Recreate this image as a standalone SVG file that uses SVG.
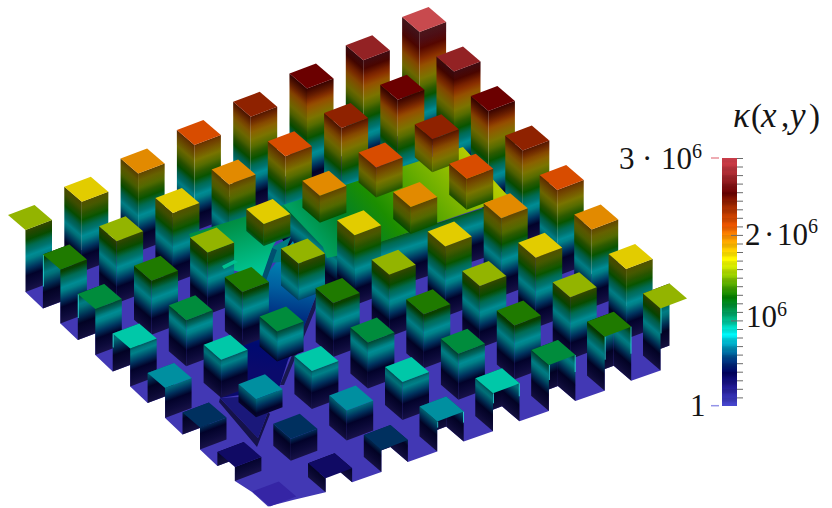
<svg xmlns="http://www.w3.org/2000/svg" width="832" height="508" viewBox="0 0 832 508">
<style>
.R{transform:matrix(26.5,-10,0,1,17.5,15);fill:url(#wall)}
.L{transform:matrix(17.5,15,0,1,0,0);fill:url(#wallL)}
.T{transform:matrix(26.5,-10,0,1,0,0);fill:url(#wallL)}
.U{transform:matrix(17.5,15,0,1,26.5,-10);fill:url(#wallL)}
.s{fill:url(#shade)}
.f{stroke:#30e0e0;stroke-width:1;fill:none;opacity:.8}
text{font-family:"Liberation Serif","Times New Roman",serif;fill:#151515}
.n{font-size:31px}
.e{font-size:20px}
.i{font-size:35px;font-style:italic}
.p{font-size:33px;font-style:normal}
</style>
<defs>
<linearGradient id="wall" gradientUnits="userSpaceOnUse" x1="0" y1="0" x2="0" y2="-118">
<stop offset="0" stop-color="#181248"/><stop offset=".06" stop-color="#0c0a3a"/><stop offset=".134" stop-color="#02022a"/><stop offset=".19" stop-color="#00305c"/><stop offset=".27" stop-color="#008088"/><stop offset=".3" stop-color="#008c94"/><stop offset=".34" stop-color="#007470"/><stop offset=".38" stop-color="#006a50"/><stop offset=".437" stop-color="#085400"/><stop offset=".49" stop-color="#2c5a00"/><stop offset=".54" stop-color="#566c00"/><stop offset=".6" stop-color="#7a7400"/><stop offset=".66" stop-color="#8a6200"/><stop offset=".708" stop-color="#945000"/><stop offset=".76" stop-color="#8a3000"/><stop offset=".858" stop-color="#540600"/><stop offset=".93" stop-color="#5a1018"/><stop offset="1" stop-color="#6a2028"/>
</linearGradient>
<linearGradient id="wallL" gradientUnits="userSpaceOnUse" x1="0" y1="0" x2="0" y2="-118">
<stop offset="0" stop-color="#141040"/><stop offset=".06" stop-color="#0a0832"/><stop offset=".134" stop-color="#020224"/><stop offset=".19" stop-color="#002a50"/><stop offset=".27" stop-color="#007078"/><stop offset=".3" stop-color="#007c84"/><stop offset=".34" stop-color="#006662"/><stop offset=".38" stop-color="#005c46"/><stop offset=".437" stop-color="#064a00"/><stop offset=".49" stop-color="#264e00"/><stop offset=".54" stop-color="#4c5e00"/><stop offset=".6" stop-color="#6c6600"/><stop offset=".66" stop-color="#7a5600"/><stop offset=".708" stop-color="#824600"/><stop offset=".76" stop-color="#782a00"/><stop offset=".858" stop-color="#4a0500"/><stop offset=".93" stop-color="#4e0e14"/><stop offset="1" stop-color="#5c1c24"/>
</linearGradient>
<linearGradient id="shade" x1="0" y1="0" x2="0" y2="1"><stop offset="0" stop-color="#000" stop-opacity=".3"/><stop offset="1" stop-color="#000" stop-opacity="0"/></linearGradient>
<linearGradient id="gA" gradientUnits="userSpaceOnUse" x1="463" y1="147" x2="330" y2="255"><stop offset="0" stop-color="#b4cc00"/><stop offset=".3" stop-color="#6cae00"/><stop offset=".6" stop-color="#1c8e00"/><stop offset=".8" stop-color="#008028"/><stop offset="1" stop-color="#00a060"/></linearGradient>
<linearGradient id="gB" gradientUnits="userSpaceOnUse" x1="232" y1="220" x2="250" y2="276"><stop offset="0" stop-color="#008c40"/><stop offset="1" stop-color="#00c898"/></linearGradient>
<linearGradient id="gC" gradientUnits="userSpaceOnUse" x1="280" y1="250" x2="265" y2="370"><stop offset="0" stop-color="#0090b8"/><stop offset=".3" stop-color="#0060a0"/><stop offset=".55" stop-color="#002c80"/><stop offset=".8" stop-color="#000a70"/><stop offset="1" stop-color="#0a0a6c"/></linearGradient>
<linearGradient id="gBar" x1="0" y1="0" x2="0" y2="1">
<stop offset="0" stop-color="#d8424f"/><stop offset=".069" stop-color="#a82a30"/><stop offset=".142" stop-color="#6a0000"/><stop offset=".19" stop-color="#a02800"/><stop offset=".275" stop-color="#f05800"/><stop offset=".316" stop-color="#ff9000"/><stop offset=".364" stop-color="#ffc800"/><stop offset=".413" stop-color="#ffff00"/><stop offset=".466" stop-color="#a8d800"/><stop offset=".514" stop-color="#50a800"/><stop offset=".563" stop-color="#008000"/><stop offset=".615" stop-color="#009850"/><stop offset=".664" stop-color="#00c8a0"/><stop offset=".709" stop-color="#00ffff"/><stop offset=".757" stop-color="#00a0c0"/><stop offset=".81" stop-color="#004088"/><stop offset=".866" stop-color="#000060"/><stop offset=".919" stop-color="#201890"/><stop offset="1" stop-color="#4848d0"/>
</linearGradient>
<pattern id="bands" patternUnits="userSpaceOnUse" x="722" y="158" width="15" height="8.56"><rect width="15" height="4.28" fill="#000" opacity=".07"/></pattern>
<polygon id="t" points="0,0 26.5,-10 44,5 17.5,15"/>
<g id="w7"><rect y="-118" width="1" height="118"/><rect class="s" y="-118" width="1" height="16"/></g>
<g id="w6"><rect y="-110" width="1" height="110"/><rect class="s" y="-110" width="1" height="16"/></g>
<g id="w5"><rect y="-102" width="1" height="102"/><rect class="s" y="-102" width="1" height="16"/></g>
<g id="w4"><rect y="-94" width="1" height="94"/><rect class="s" y="-94" width="1" height="16"/></g>
<g id="w3"><rect y="-86" width="1" height="86"/><rect class="s" y="-86" width="1" height="16"/></g>
<g id="w2"><rect y="-78" width="1" height="78"/><rect class="s" y="-78" width="1" height="16"/></g>
<g id="w1"><rect y="-70" width="1" height="70"/><rect class="s" y="-70" width="1" height="16"/></g>
<g id="w0"><rect y="-62" width="1" height="62"/><rect class="s" y="-62" width="1" height="16"/></g>
<g id="wm1"><rect y="-54" width="1" height="54"/><rect class="s" y="-54" width="1" height="10"/></g>
<g id="wm2"><rect y="-46" width="1" height="46"/><rect class="s" y="-46" width="1" height="8"/></g>
<g id="wm3"><rect y="-38" width="1" height="38"/><rect class="s" y="-38" width="1" height="6"/></g>
<g id="wm4"><rect y="-30" width="1" height="30"/></g>
<g id="wm5"><rect y="-22" width="1" height="22"/></g>
<g id="wm6"><rect y="-14" width="1" height="14"/></g>
<g id="b7"><use href="#w7" class="R"/><use href="#w7" class="L"/><use href="#t" y="-118" fill="#c84a4e"/></g>
<g id="b6"><use href="#w6" class="R"/><use href="#w6" class="L"/><use href="#t" y="-110" fill="#932224"/></g>
<g id="b5"><use href="#w5" class="R"/><use href="#w5" class="L"/><use href="#t" y="-102" fill="#6b0000"/></g>
<g id="b4"><use href="#w4" class="R"/><use href="#w4" class="L"/><use href="#t" y="-94" fill="#8f2200"/></g>
<g id="b3"><use href="#w3" class="R"/><use href="#w3" class="L"/><use href="#t" y="-86" fill="#d84c00"/></g>
<g id="b2"><use href="#w2" class="R"/><use href="#w2" class="L"/><use href="#t" y="-78" fill="#e28a00"/></g>
<g id="b1"><use href="#w1" class="R"/><use href="#w1" class="L"/><use href="#t" y="-70" fill="#e2cc00"/></g>
<g id="b0"><use href="#w0" class="R"/><use href="#w0" class="L"/><use href="#t" y="-62" fill="#93b400"/></g>
<g id="bm1"><use href="#wm1" class="R"/><use href="#wm1" class="L"/><use href="#t" y="-54" fill="#1f7a00"/></g>
<g id="bm2"><use href="#wm2" class="R"/><use href="#wm2" class="L"/><use href="#t" y="-46" fill="#008c3c"/></g>
<g id="bm3"><use href="#wm3" class="R"/><use href="#wm3" class="L"/><use href="#t" y="-38" fill="#00c8a8"/></g>
<g id="bm4"><use href="#wm4" class="R"/><use href="#wm4" class="L"/><use href="#t" y="-30" fill="#008fa0"/></g>
<g id="bm5"><use href="#wm5" class="R"/><use href="#wm5" class="L"/><use href="#t" y="-22" fill="#00305f"/></g>
<g id="l0"><use href="#w0" class="R"/><use href="#t" y="-62" fill="#93b400"/></g>
<g id="lm1"><use href="#wm1" class="T"/><use href="#wm1" class="R"/><path class="f" d="M0.5,-54V-22"/><use href="#t" y="-54" fill="#1f7a00"/></g>
<g id="lm2"><use href="#wm2" class="T"/><use href="#wm2" class="R"/><path class="f" d="M0.5,-46V-22"/><use href="#t" y="-46" fill="#008c3c"/></g>
<g id="lm3"><use href="#wm3" class="T"/><use href="#wm3" class="R"/><path class="f" d="M0.5,-38V-24"/><use href="#t" y="-38" fill="#00c8a8"/></g>
<g id="lm4"><use href="#wm4" class="T"/><use href="#wm4" class="R"/><use href="#t" y="-30" fill="#008fa0"/></g>
<g id="lm5"><use href="#wm5" class="T"/><use href="#wm5" class="R"/><use href="#t" y="-22" fill="#00305f"/></g>
<g id="lm6"><use href="#wm6" class="T"/><use href="#wm6" class="R"/><use href="#t" y="-14" fill="#100a64"/></g>
<g id="r0"><use href="#w0" class="T"/><use href="#w0" class="L"/><path class="f" d="M18,-48V-22"/><use href="#t" y="-62" fill="#93b400"/></g>
<g id="rm1"><use href="#wm1" class="T"/><use href="#wm1" class="U"/><use href="#wm1" class="L"/><path class="f" d="M18,-39V-16M43.8,-49V-22"/><use href="#t" y="-54" fill="#1f7a00"/></g>
<g id="rm2"><use href="#wm2" class="T"/><use href="#wm2" class="U"/><use href="#wm2" class="L"/><path class="f" d="M18,-31V-16M43.8,-41V-24"/><use href="#t" y="-46" fill="#008c3c"/></g>
<g id="rm3"><use href="#wm3" class="T"/><use href="#wm3" class="U"/><use href="#wm3" class="L"/><path class="f" d="M18,-23V-13M43.8,-33V-20"/><use href="#t" y="-38" fill="#00c8a8"/></g>
<g id="rm4"><use href="#wm4" class="T"/><use href="#wm4" class="U"/><use href="#wm4" class="L"/><path class="f" d="M18,-15V-9M43.8,-25V-14"/><use href="#t" y="-30" fill="#008fa0"/></g>
<g id="rm5"><use href="#wm5" class="T"/><use href="#wm5" class="U"/><use href="#wm5" class="L"/><use href="#t" y="-22" fill="#00305f"/></g>
<g id="rm6"><use href="#wm6" class="T"/><use href="#wm6" class="U"/><use href="#wm6" class="L"/><use href="#t" y="-14" fill="#100a64"/></g>
</defs>
<rect width="832" height="508" fill="#fff"/>
<polygon id="floor" fill="#4238b4" points="25.5,292 34.5,267 428.6,124.9 669.5,345.4 660.5,348.8 660.5,370.4 631.2,380.7 613.7,365.7 604.7,369.1 604.7,390.7 575.4,401 557.9,386 548.9,389.4 548.9,411 519.5,421.3 502,406.3 493,409.7 493,431.3 463.7,441.6 446.2,426.6 437.2,430 437.2,451.6 407.9,461.9 390.4,446.9 381.4,450.3 381.4,471.9 352.1,482.2 334.6,467.2 325.6,470.6 325.6,492.2 293,500 268,506.5 252,492 234.9,481 234.9,459.4 217.4,466 200,449.5 200,427.9 182.5,434.5 165.1,418 165.1,396.4 147.6,403 130.2,386.5 130.2,364.9 112.7,371.5 95.3,355 95.3,333.4 77.8,340 60.4,323.5 60.4,301.9 42.9,308.5"/>
<g id="columns-back">
<g id="n70" transform="translate(402.1 134.9)"><use href="#b7"/></g>
<g id="n60" transform="translate(345.8 155.2)"><use href="#b6"/></g>
<g id="n71" transform="translate(436.5 166.4)"><use href="#b6"/></g>
<g id="n50" transform="translate(289.5 175.5)"><use href="#b5"/></g>
<g id="n61" transform="translate(380.3 186.7)"><use href="#b5"/></g>
<g id="n72" transform="translate(470.9 197.9)"><use href="#b5"/></g>
<g id="n40" transform="translate(233.2 195.8)"><use href="#b4"/></g>
<g id="n51" transform="translate(324.1 207)"><use href="#b4"/></g>
<g id="n73" transform="translate(505.3 229.4)"><use href="#b4"/></g>
<g id="n30" transform="translate(176.9 216.1)"><use href="#b3"/></g>
<g id="n41" transform="translate(267.8 227.3)"><use href="#b3"/></g>
<g id="n20" transform="translate(120.6 236.4)"><use href="#b2"/></g>
<g id="n31" transform="translate(211.6 247.6)"><use href="#b2"/></g>
<g id="n10" transform="translate(64.3 256.7)"><use href="#b1"/></g>
<g id="n21" transform="translate(155.4 267.9)"><use href="#b1"/></g>
<g id="n00" transform="translate(8 277)"><use href="#l0"/></g>
<g id="n11" transform="translate(99.1 288.2)"><use href="#b0"/></g>
<g id="n01" transform="translate(42.9 308.5)"><use href="#lm1"/></g>
</g>
<g id="plate">
<rect width="1" y="-50" height="50" fill="url(#wall)" transform="matrix(163 -53 0 1 345 303)"/>
<rect width="1" y="-50" height="50" fill="url(#wallL)" transform="matrix(62 48 0 1 283 255)"/>
<polygon points="219,402 257,447 270,414 268,412 258,438 220,398" fill="#15124a"/>
<polygon points="220,398 258,438 268,412 258,396" fill="#1a187a"/>
<polygon points="316,296 320,298 284,385 280,385" fill="#181850"/>
<polygon points="293,241 316,296 302,332 288,360 280,385 267,413 240,395 220,398 232,372 250,317 267,274" fill="url(#gC)"/>
<polygon points="272,247 291,237 281,262 270,263" fill="#007a82"/>
<polygon points="272,248 277,250 266,281 261,277" fill="#005070"/>
<polygon points="189,234 283,205 291,215 272,248 262,277 223,268 234,262 200,262" fill="url(#gB)"/>
<polygon points="283,205 463,147 510,198 345,254 327,258 323,247" fill="url(#gA)"/>
</g>
<g id="columns-front">
<g id="n62" transform="translate(414.8 218.2)"><g class="R"><rect y="-94" width="1" height="33"/><rect class="s" y="-94" width="1" height="16"/></g><g class="L"><rect y="-94" width="1" height="33"/><rect class="s" y="-94" width="1" height="16"/></g><use href="#t" y="-94" fill="#8f2200"/></g>
<g id="n52" transform="translate(358.6 238.5)"><g class="R"><rect y="-86" width="1" height="30"/><rect class="s" y="-86" width="1" height="16"/></g><g class="L"><rect y="-86" width="1" height="30"/><rect class="s" y="-86" width="1" height="16"/></g><use href="#t" y="-86" fill="#d84c00"/></g>
<g id="n63" transform="translate(449.2 249.7)"><g class="R"><rect y="-86" width="1" height="31"/><rect class="s" y="-86" width="1" height="16"/></g><g class="L"><rect y="-86" width="1" height="31"/><rect class="s" y="-86" width="1" height="16"/></g><use href="#t" y="-86" fill="#d84c00"/></g>
<g id="n74" transform="translate(539.7 260.9)"><use href="#b3"/></g>
<g id="n42" transform="translate(302.4 258.8)"><g class="R"><rect y="-78" width="1" height="27"/><rect class="s" y="-78" width="1" height="16"/></g><g class="L"><rect y="-78" width="1" height="27"/><rect class="s" y="-78" width="1" height="16"/></g><use href="#t" y="-78" fill="#e28a00"/></g>
<g id="n53" transform="translate(393.2 270)"><g class="R"><rect y="-78" width="1" height="27"/><rect class="s" y="-78" width="1" height="16"/></g><g class="L"><rect y="-78" width="1" height="27"/><rect class="s" y="-78" width="1" height="16"/></g><use href="#t" y="-78" fill="#e28a00"/></g>
<g id="n64" transform="translate(483.7 281.2)"><use href="#b2"/></g>
<g id="n75" transform="translate(574.2 292.4)"><use href="#b2"/></g>
<g id="n32" transform="translate(246.3 279.1)"><g class="R"><rect y="-70" width="1" height="22"/><rect class="s" y="-70" width="1" height="16"/></g><g class="L"><rect y="-70" width="1" height="22"/><rect class="s" y="-70" width="1" height="16"/></g><use href="#t" y="-70" fill="#e2cc00"/></g>
<g id="n43" transform="translate(337.1 290.3)"><use href="#b1"/></g>
<g id="n54" transform="translate(427.7 301.5)"><use href="#b1"/></g>
<g id="n65" transform="translate(518.2 312.7)"><use href="#b1"/></g>
<g id="n76" transform="translate(608.6 323.9)"><use href="#b1"/></g>
<g id="n22" transform="translate(190.1 299.4)"><use href="#b0"/></g>
<g id="n33" transform="translate(281 310.6)"><g class="R"><rect y="-62" width="1" height="37"/><rect class="s" y="-62" width="1" height="16"/></g><g class="L"><rect y="-62" width="1" height="37"/><rect class="s" y="-62" width="1" height="16"/></g><use href="#t" y="-62" fill="#93b400"/></g>
<g id="n44" transform="translate(371.7 321.8)"><use href="#b0"/></g>
<g id="n55" transform="translate(462.3 333)"><use href="#b0"/></g>
<g id="n66" transform="translate(552.7 344.2)"><use href="#b0"/></g>
<g id="n77" transform="translate(643 355.4)"><use href="#r0"/></g>
<polygon id="plate-lip" points="222,266 234,260 238,262 224,269" fill="#00c090"/>
<g id="n12" transform="translate(134 319.7)"><use href="#bm1"/></g>
<g id="n23" transform="translate(224.9 330.9)"><use href="#bm1"/></g>
<g id="n34" transform="translate(315.7 342.1)"><use href="#bm1"/></g>
<g id="n45" transform="translate(406.3 353.3)"><use href="#bm1"/></g>
<g id="n56" transform="translate(496.8 364.5)"><use href="#bm1"/></g>
<g id="n67" transform="translate(587.2 375.7)"><use href="#rm1"/></g>
<g id="n02" transform="translate(77.8 340)"><use href="#lm2"/></g>
<g id="n13" transform="translate(168.8 351.2)"><use href="#bm2"/></g>
<g id="n24" transform="translate(259.6 362.4)"><g class="R"><rect y="-46" width="1" height="30"/><rect class="s" y="-46" width="1" height="8"/></g><g class="L"><rect y="-46" width="1" height="30"/><rect class="s" y="-46" width="1" height="8"/></g><use href="#t" y="-46" fill="#008c3c"/></g>
<g id="n35" transform="translate(350.4 373.6)"><use href="#bm2"/></g>
<g id="n46" transform="translate(440.9 384.8)"><use href="#bm2"/></g>
<g id="n57" transform="translate(531.4 396)"><use href="#rm2"/></g>
<g id="n03" transform="translate(112.7 371.5)"><use href="#lm3"/></g>
<g id="n14" transform="translate(203.6 382.7)"><use href="#bm3"/></g>
<g id="n25" transform="translate(294.4 393.9)"><use href="#bm3"/></g>
<g id="n36" transform="translate(385 405.1)"><use href="#bm3"/></g>
<g id="n47" transform="translate(475.5 416.3)"><use href="#rm3"/></g>
<g id="n04" transform="translate(147.6 403)"><use href="#lm4"/></g>
<g id="n15" transform="translate(238.5 414.2)"><g class="R"><rect y="-30" width="1" height="18"/></g><g class="L"><rect y="-30" width="1" height="18"/></g><use href="#t" y="-30" fill="#008fa0"/></g>
<g id="n26" transform="translate(329.2 425.4)"><use href="#bm4"/></g>
<g id="n37" transform="translate(419.7 436.6)"><use href="#rm4"/></g>
<g id="n05" transform="translate(182.5 434.5)"><use href="#lm5"/></g>
<g id="n16" transform="translate(273.3 445.7)"><use href="#bm5"/></g>
<g id="n27" transform="translate(363.9 456.9)"><use href="#rm5"/></g>
<g id="n06" transform="translate(217.4 466)"><use href="#lm6"/></g>
<g id="n17" transform="translate(308.1 477.2)"><use href="#rm6"/></g>
<g id="n07" transform="translate(252.3 497.5)"><use href="#t" y="-6" fill="#3525a5"/></g>
</g>
<g id="colorbar">
<rect x="722" y="158" width="15" height="248" fill="url(#gBar)"/>
<rect x="722" y="158" width="15" height="248" fill="url(#bands)"/>
<path d="M737 158.5h6M737 167h6M737 175.6h6M737 184.1h6M737 192.7h6M737 201.2h6M737 209.8h6M737 218.3h6M737 226.9h6M731 235.4h12M737 244h6M737 252.5h6M737 261.1h6M737 269.6h6M737 278.2h6M737 286.7h6M737 295.3h6M737 303.8h6M737 312.4h6M731 320.9h12M737 329.5h6M737 338h6M737 346.6h6M737 355.1h6M737 363.7h6M737 372.2h6M737 380.8h6M737 389.3h6M737 397.9h6" stroke="#6a6a6a" stroke-width="1" fill="none"/>
<path d="M711 158h8" stroke="#e8909a" stroke-width="1.5"/>
<path d="M711 405.7h8" stroke="#9494e8" stroke-width="1.5"/>
<text class="i"><tspan x="733" y="127">κ</tspan><tspan class="p" x="751" y="127">(</tspan><tspan x="761" y="127">x</tspan><tspan class="p" x="781" y="127">,</tspan><tspan x="790" y="127">y</tspan><tspan class="p" x="809" y="127">)</tspan></text>
<text class="n"><tspan x="619" y="169">3</tspan><tspan x="642" y="169">·</tspan><tspan x="661" y="169">10</tspan><tspan class="e" x="692" y="158">6</tspan></text>
<text class="n"><tspan x="745" y="245">2</tspan><tspan x="764" y="245">·</tspan><tspan x="777" y="245">10</tspan><tspan class="e" x="808" y="233">6</tspan></text>
<text class="n"><tspan x="746" y="327">10</tspan><tspan class="e" x="777" y="316">6</tspan></text>
<text class="n" x="690" y="416">1</text>
</g>
</svg>
